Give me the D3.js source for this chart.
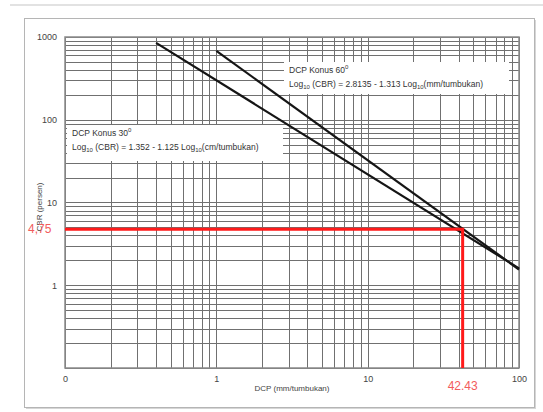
<!DOCTYPE html>
<html>
<head>
<script src="https://d3js.org/d3.v7.min.js"></script>
<style>
  body { margin:0; background:#fff; }
  svg { display:block; font-family:"Liberation Sans", Arial, sans-serif; }
</style>
</head>
<body>
<svg id="chart"></svg>
<script>
// data
var xTicks = [0.1, 1, 10, 100];
var xTickLabels = ["0", "1", "10", "100"];
var yTicks = [1, 10, 100, 1000];
var yTickLabels = ["1", "10", "100", "1000"];
var konus30 = [{dcp: 0.4, cbr: 850}, {dcp: 100, cbr: 1.6}];
var konus60 = [{dcp: 1, cbr: 680}, {dcp: 100, cbr: 1.55}];
var cbrRead = 4.75, cbrReadLabel = "4,75";
var dcpRead = 42.43, dcpReadLabel = "42.43";

var W = 543, H = 412;
var margin = {top: 37, right: 24, bottom: 44, left: 65};

var svg = d3.select("#chart").attr("width", W).attr("height", H);

// page rule + card
svg.append("line").attr("x1", 10).attr("x2", W).attr("y1", 5).attr("y2", 5)
   .attr("stroke", "#e2e2e2").attr("stroke-width", 2);
svg.append("rect").attr("x", 26).attr("y", 20).attr("width", 510).attr("height", 389)
   .attr("fill", "#d6d6d6");
svg.append("rect").attr("x", 24.5).attr("y", 18.5).attr("width", 510).attr("height", 389)
   .attr("fill", "#fff").attr("stroke", "#b5b5b5");

var x = d3.scaleLog().domain([0.1, 100]).range([margin.left, W - margin.right]);
var y = d3.scaleLog().domain([0.1, 1000]).range([H - margin.bottom, margin.top]);

var g = svg.append("g");

// grid: every 1..9 of each decade
var xGrid = [], yGrid = [];
[0.1, 1, 10].forEach(function(d){ for (var k = 1; k < 10; k++) xGrid.push(d * k); });
xGrid.push(100);
[0.1, 1, 10, 100].forEach(function(d){ for (var k = 1; k < 10; k++) yGrid.push(d * k); });
yGrid.push(1000);

g.selectAll(".vg").data(xGrid).enter().append("line")
  .attr("x1", function(d){ return Math.round(x(d)) + 0.5; })
  .attr("x2", function(d){ return Math.round(x(d)) + 0.5; })
  .attr("y1", y(1000)).attr("y2", y(0.1))
  .attr("stroke", "#707070").attr("stroke-width", 1);

g.selectAll(".hg").data(yGrid).enter().append("line")
  .attr("y1", function(d){ return Math.round(y(d)) + 0.5; })
  .attr("y2", function(d){ return Math.round(y(d)) + 0.5; })
  .attr("x1", x(0.1)).attr("x2", x(100))
  .attr("stroke", "#707070").attr("stroke-width", 1);

g.append("rect").attr("x", x(0.1)).attr("y", y(1000))
  .attr("width", x(100) - x(0.1)).attr("height", y(0.1) - y(1000))
  .attr("fill", "none").attr("stroke", "#8a8a8a").attr("stroke-width", 1.5);

// axes labels (custom, like a scanned chart)
var xAxis = d3.axisBottom(x).tickValues(xTicks)
  .tickFormat(function(d, i){ return xTickLabels[i]; }).tickSize(0).tickPadding(8);
var yAxis = d3.axisLeft(y).tickValues(yTicks)
  .tickFormat(function(d, i){ return yTickLabels[i]; }).tickSize(0).tickPadding(7);

svg.append("g").attr("transform", "translate(0," + (H - margin.bottom) + ")")
  .call(xAxis).call(function(a){
    a.select(".domain").remove();
    a.selectAll("text").attr("font-size", 9).attr("fill", "#444")
      .attr("font-family", "Liberation Sans, Arial, sans-serif");
  });
svg.append("g").attr("transform", "translate(" + (margin.left - 1) + ",0)")
  .call(yAxis).call(function(a){
    a.select(".domain").remove();
    a.selectAll("text").attr("font-size", 9).attr("fill", "#444")
      .attr("font-family", "Liberation Sans, Arial, sans-serif");
  });

svg.append("text").attr("x", 292).attr("y", 391).attr("text-anchor", "middle")
  .attr("font-size", 8).attr("fill", "#444").text("DCP (mm/tumbukan)");
svg.append("text").attr("transform", "translate(42,207) rotate(-90)")
  .attr("text-anchor", "middle").attr("font-size", 8).attr("fill", "#444")
  .text("CBR (persen)");

// annotation boxes
function note(bx, by, bw, bh, angle, formula) {
  var n = svg.append("g");
  n.append("rect").attr("x", bx).attr("y", by).attr("width", bw).attr("height", bh).attr("fill", "#fff");
  var t1 = n.append("text").attr("x", bx + 5).attr("y", by + 11).attr("font-size", 8.5).attr("fill", "#333");
  t1.append("tspan").text("DCP  Konus " + angle);
  t1.append("tspan").attr("dy", -4).attr("font-size", 6).text("0");
  var t2 = n.append("text").attr("x", bx + 5).attr("y", by + 25).attr("font-size", 8.5).attr("fill", "#333");
  t2.append("tspan").text("Log");
  t2.append("tspan").attr("dy", 2).attr("font-size", 6).text("10");
  t2.append("tspan").attr("dy", -2).text(" (CBR) = " + formula[0] + " - " + formula[1] + " Log");
  t2.append("tspan").attr("dy", 2).attr("font-size", 6).text("10");
  t2.append("tspan").attr("dy", -2).text("(" + formula[2] + "/tumbukan)");
}
note(284, 62, 225, 32, "60", ["2.8135", "1.313", "mm"]);
note(67, 125, 216, 36, "30", ["1.352", "1.125", "cm"]);

// DCP lines
var line = d3.line().x(function(d){ return x(d.dcp); }).y(function(d){ return y(d.cbr); });
[konus30, konus60].forEach(function(s){
  svg.append("path").datum(s).attr("d", line)
    .attr("fill", "none").attr("stroke", "#151515").attr("stroke-width", 2.2);
});

// red reading
svg.append("path")
  .attr("d", "M" + x(0.1) + "," + y(cbrRead) + "H" + x(dcpRead) + "V" + y(0.1))
  .attr("fill", "none").attr("stroke", "#ff1a1a").attr("stroke-width", 3);
svg.append("text").attr("x", 28).attr("y", y(cbrRead) + 4).attr("font-size", 12)
  .attr("fill", "#f25c5c").text(cbrReadLabel);
svg.append("text").attr("x", x(dcpRead)).attr("y", 390).attr("text-anchor", "middle")
  .attr("font-size", 12).attr("fill", "#f25c5c").text(dcpReadLabel);
</script>
</body>
</html>
